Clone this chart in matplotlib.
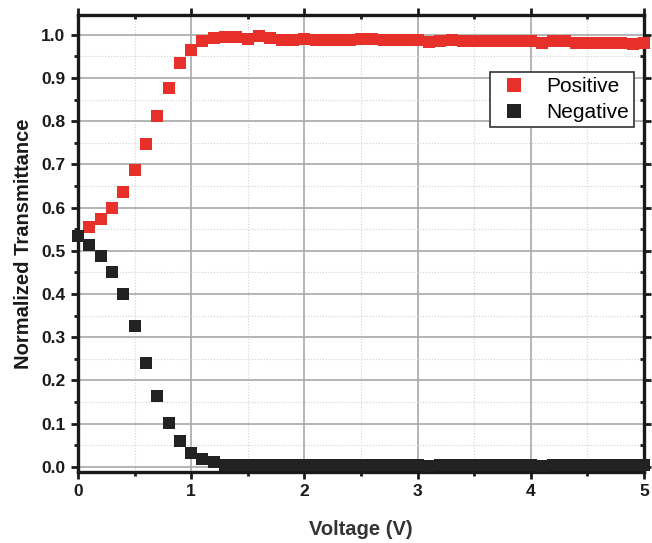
import matplotlib
matplotlib.use("Agg")
import matplotlib.pyplot as plt
from matplotlib.ticker import MultipleLocator
import numpy as np

voltage = [round(0.1 * i, 1) for i in range(51)]
positive = [0.535, 0.556, 0.573, 0.600, 0.637, 0.686, 0.748, 0.813, 0.878, 0.934,
            0.965, 0.986, 0.992, 0.996, 0.996, 0.991, 0.998, 0.992, 0.988, 0.988,
            0.990, 0.988, 0.988, 0.987, 0.989, 0.990, 0.990, 0.987, 0.987, 0.987,
            0.987, 0.984, 0.985, 0.987, 0.986, 0.986, 0.985, 0.985, 0.985, 0.985,
            0.985, 0.982, 0.985, 0.986, 0.982, 0.981, 0.982, 0.982, 0.981, 0.979, 0.981]
negative = [0.535, 0.514, 0.489, 0.452, 0.400, 0.326, 0.240, 0.163, 0.101, 0.059,
            0.032, 0.018, 0.010, 0.005, 0.004, 0.003, 0.003, 0.003, 0.003, 0.003,
            0.003, 0.003, 0.003, 0.003, 0.003, 0.003, 0.004, 0.003, 0.003, 0.003,
            0.003, 0.002, 0.003, 0.003, 0.003, 0.003, 0.003, 0.003, 0.003, 0.003,
            0.003, 0.002, 0.003, 0.003, 0.003, 0.003, 0.003, 0.003, 0.003, 0.003, 0.003]

plt.rcParams['font.family'] = ['Liberation Sans', 'DejaVu Sans']

fig = plt.figure(figsize=(6.52, 5.43), dpi=100)
ax = fig.add_axes([0.1196, 0.1308, 0.8681, 0.8416])

red = '#E8302A'
black = '#222222'
lp, = ax.plot(voltage, positive, 's', color=red, markersize=8.3, markeredgewidth=0,
              clip_on=False, zorder=3, label='Positive')
ln, = ax.plot(voltage, negative, 's', color=black, markersize=8.3, markeredgewidth=0,
              clip_on=False, zorder=4, label='Negative')

ax.set_xlim(0, 5)
ax.set_ylim(-0.012, 1.046)
ax.xaxis.set_major_locator(MultipleLocator(1))
ax.xaxis.set_minor_locator(MultipleLocator(0.5))
ax.yaxis.set_major_locator(MultipleLocator(0.1))
ax.yaxis.set_minor_locator(MultipleLocator(0.05))
ax.set_yticks(np.arange(0, 1.01, 0.1))
ax.set_yticklabels([f'{v:.1f}' for v in np.arange(0, 1.01, 0.1)])

ax.grid(which='major', color='#a8a8a8', linewidth=1.2, linestyle='-', zorder=0)
ax.grid(which='minor', color='#d0d0d0', linewidth=0.8, linestyle=':', zorder=0)
ax.set_axisbelow(True)

for s in ax.spines.values():
    s.set_linewidth(2.4)
    s.set_color('#1a1a1a')

ax.tick_params(which='both', top=True, right=True, width=2, color='#1a1a1a')
ax.tick_params(which='major', length=5)
ax.tick_params(which='minor', length=3)
ax.tick_params(axis='x', which='both', direction='out')
ax.tick_params(axis='y', which='both', direction='out')
# top & right ticks inward
for t in ax.xaxis.get_major_ticks() + ax.xaxis.get_minor_ticks():
    t.tick2line.set_marker(3)  # TICKDOWN
for t in ax.yaxis.get_major_ticks() + ax.yaxis.get_minor_ticks():
    t.tick2line.set_marker(0)  # TICKLEFT

for lab in ax.get_xticklabels() + ax.get_yticklabels():
    lab.set_fontweight('bold')
    lab.set_fontsize(12.5)
    lab.set_color('#1a1a1a')
ax.tick_params(axis='both', pad=4)

ax.set_xlabel('Voltage (V)', fontsize=14.5, fontweight='bold', color='#333333', labelpad=15)
ax.set_ylabel('Normalized Transmittance', fontsize=14.5, fontweight='bold', color='#1a1a1a', labelpad=6)

leg = ax.legend(handles=[lp, ln], loc='upper right', bbox_to_anchor=(0.982, 0.875),
                fontsize=15, frameon=True, fancybox=False, borderaxespad=0,
                handlelength=1.8, handletextpad=0.65, borderpad=0.25, labelspacing=0.32,
                markerscale=1.15)
leg.get_frame().set_edgecolor('#333333')
leg.get_frame().set_linewidth(1.2)
leg.get_frame().set_alpha(1)

fig.savefig('out.png', dpi=100)
